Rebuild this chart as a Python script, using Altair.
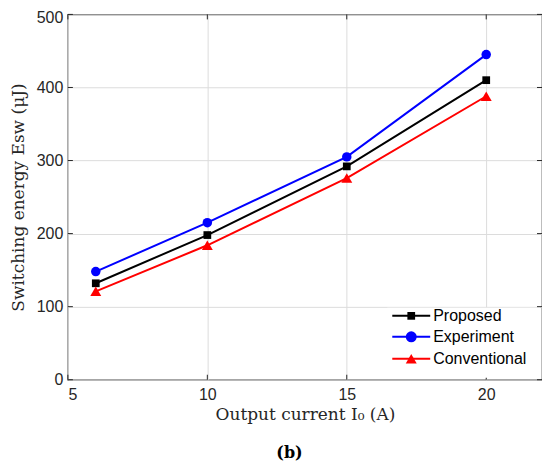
import altair as alt
import pandas as pd

current = [6, 10, 15, 20]
proposed = [132, 198, 292, 410]
experiment = [148, 215, 305, 445]
conventional = [121, 184, 276, 388]
series_names = ["Proposed", "Experiment", "Conventional"]
series_colors = ["#000000", "#0000ff", "#ff0000"]
series_shapes = ["square", "circle", "triangle-up"]
series_sizes = [60, 120, 120]
x_ticks = [5, 10, 15, 20]
y_ticks = [0, 100, 200, 300, 400, 500]

rows = []
for name, vals in zip(series_names, [proposed, experiment, conventional]):
    for c, v in zip(current, vals):
        rows.append({"series": name, "current": c, "energy": v})
df = pd.DataFrame(rows)

W, H = 475, 366
XS = alt.Scale(domain=[5, 22], nice=False, zero=False)
YS = alt.Scale(domain=[0, 500], nice=False)

xenc = alt.X("current:Q", scale=XS,
             axis=alt.Axis(values=x_ticks, title="Output current I₀ (A)", titlePadding=4, labelPadding=7))
yenc = alt.Y("energy:Q", scale=YS,
             axis=alt.Axis(values=y_ticks, title="Switching energy Esw (μJ)", titlePadding=9,
                           labelPadding=5,
                           labelOffset={"condition": {"test": "datum.value == 500", "value": 3}, "value": 0}))
color = alt.Color("series:N", scale=alt.Scale(domain=series_names, range=series_colors), legend=None)
shape = alt.Shape("series:N", scale=alt.Scale(domain=series_names, range=series_shapes), legend=None)
size = alt.Size("series:N", scale=alt.Scale(domain=series_names, range=series_sizes), legend=None)

base = alt.Chart(df)
lines = base.mark_line(strokeWidth=2).encode(x=xenc, y=yenc, color=color, detail="series:N")
points = base.mark_point(filled=True, opacity=1).encode(x="current:Q", y="energy:Q", color=color, shape=shape, size=size)

xt = pd.DataFrame({"t": x_ticks})
yt = pd.DataFrame({"t": y_ticks})
tick_len = 5
xt_bottom = alt.Chart(xt).mark_rule(color="#262626", strokeWidth=1).encode(
    x=alt.X("t:Q", scale=XS), y=alt.value(H), y2=alt.value(H - tick_len))
xt_top = alt.Chart(xt).mark_rule(color="#262626", strokeWidth=1).encode(
    x=alt.X("t:Q", scale=XS), y=alt.value(0), y2=alt.value(tick_len))
yt_left = alt.Chart(yt).mark_rule(color="#262626", strokeWidth=1).encode(
    y=alt.Y("t:Q", scale=YS), x=alt.value(0), x2=alt.value(tick_len))
yt_right = alt.Chart(yt).mark_rule(color="#262626", strokeWidth=1).encode(
    y=alt.Y("t:Q", scale=YS), x=alt.value(W), x2=alt.value(W - tick_len))

# legend (inside, bottom right)
leg_bg = alt.Chart(pd.DataFrame({"a": [0]})).mark_rect(color="white").encode(
    x=alt.value(320), x2=alt.value(473), y=alt.value(294), y2=alt.value(364))
legend_layers = [leg_bg]
row_y = [302, 323, 345]
for name, col, shp, sz, ly in zip(series_names, series_colors, series_shapes, series_sizes, row_y):
    d = pd.DataFrame({"series": [name]})
    legend_layers.append(alt.Chart(d).mark_rule(color=col, strokeWidth=2).encode(
        x=alt.value(325), x2=alt.value(363), y=alt.value(ly)))
    legend_layers.append(alt.Chart(d).mark_point(filled=True, opacity=1, color=col, shape=shp, size=sz).encode(
        x=alt.value(344), y=alt.value(ly)))
    legend_layers.append(alt.Chart(d).mark_text(align="left", baseline="middle", font="Liberation Sans",
                                                fontSize=16, color="#000000").encode(
        x=alt.value(366), y=alt.value(ly), text="series:N"))

caption = alt.Chart(pd.DataFrame({"c": ["(b)"]})).mark_text(
    font="DejaVu Serif", fontSize=16, fontWeight="bold", color="#000000", baseline="middle").encode(
    x=alt.value(222), y=alt.value(439), text="c:N")

chart = alt.layer(
    lines, points, xt_bottom, xt_top, yt_left, yt_right, *legend_layers, caption
).properties(
    width=W, height=H,
    autosize=alt.AutoSizeParams(type="none"),
    padding={"left": 60, "top": 6, "right": 0, "bottom": 84},
).configure_view(
    stroke="#262626", strokeWidth=1.2
).configure_axis(
    labelFont="Liberation Sans", labelFontSize=16, labelColor="#262626",
    titleFont="DejaVu Serif", titleFontSize=17, titleFontWeight="normal", titleColor="#262626",
    grid=True, gridColor="#dcdcdc", gridWidth=1, domain=False, ticks=False, tickSize=0
)

chart.save("out.html", embed_options={"renderer": "svg", "actions": False})
